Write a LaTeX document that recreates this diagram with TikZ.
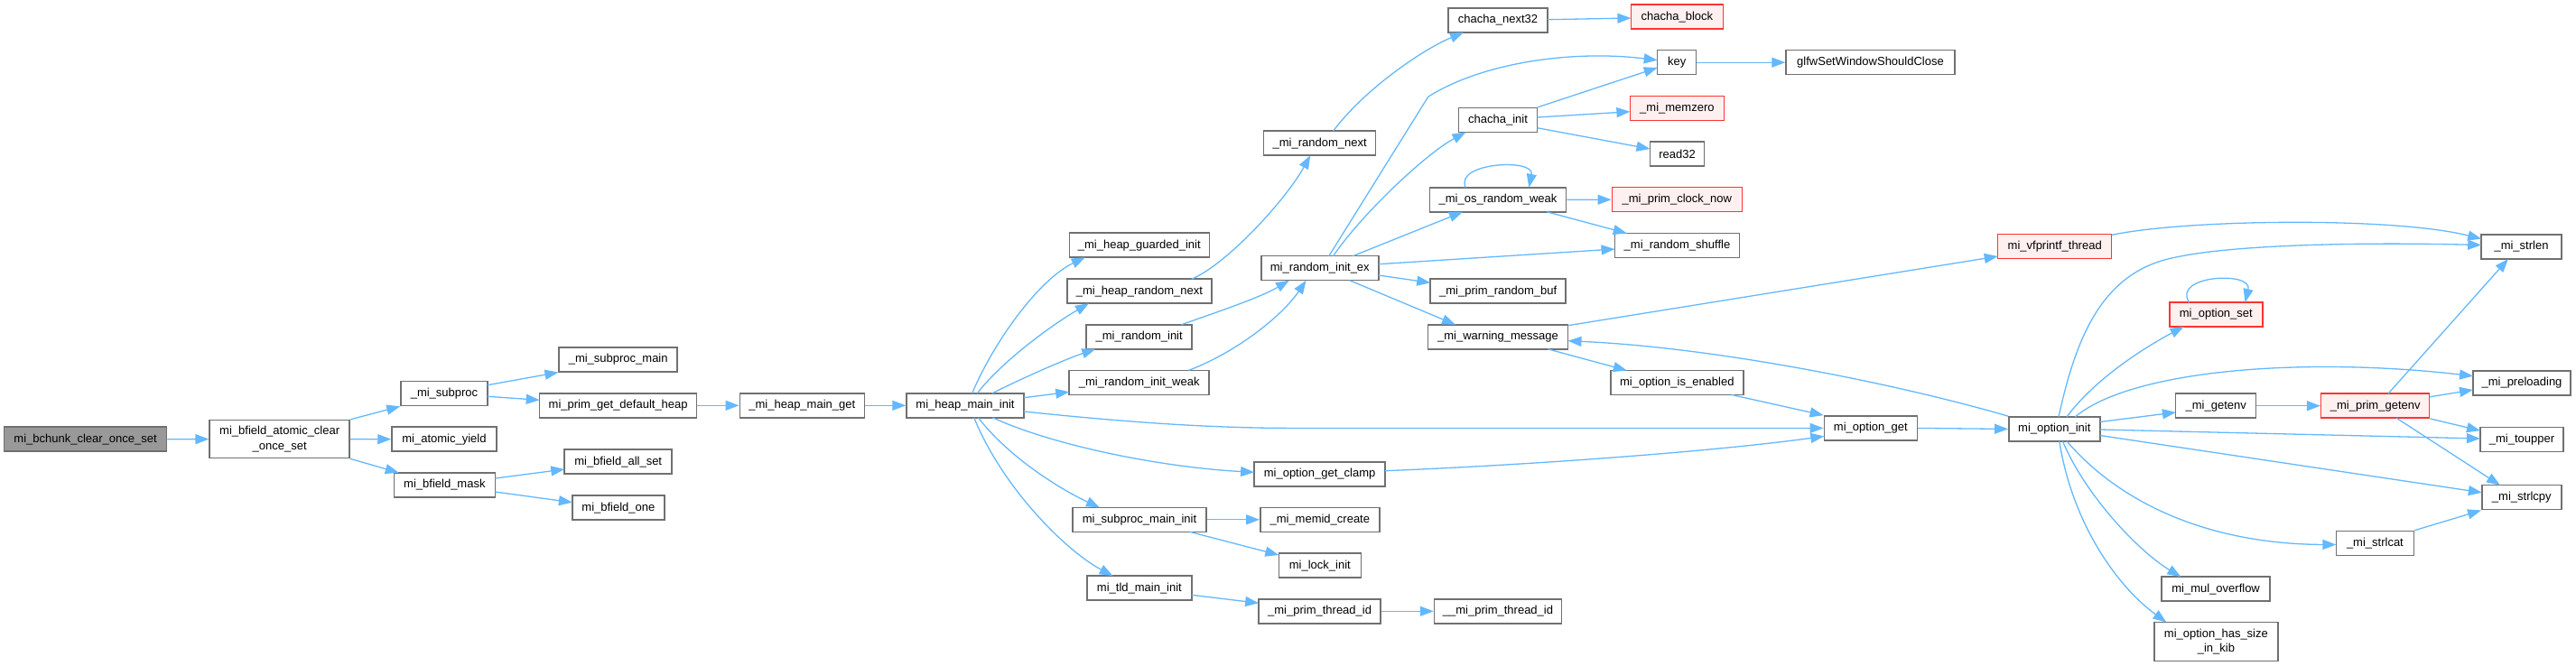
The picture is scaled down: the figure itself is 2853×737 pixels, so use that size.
\documentclass[tikz,border=0pt]{standalone}
\usepackage{fontspec}
\setmainfont{Liberation Sans}
\usetikzlibrary{arrows.meta}
\definecolor{boxgray}{HTML}{707070}
\definecolor{edgeblue}{HTML}{63B8FF}
\definecolor{boxred}{HTML}{FF3333}
\definecolor{redfill}{HTML}{FFF0F0}
\definecolor{rootfill}{HTML}{999999}
\tikzset{
  fn/.style={draw=boxgray, line width=1.5pt, fill=white, minimum height=27pt, inner sep=0pt,
    font=\fontsize{13}{16.5}\selectfont, text=black, align=center},
  hl/.style={fn, draw=boxred, fill=redfill},
  rootfn/.style={fn, fill=rootfill},
  e/.style={draw=edgeblue, line width=1.3pt, -{Triangle[length=15pt,width=11pt]}},
}
\begin{document}
\begin{tikzpicture}[x=1pt,y=-1pt]
\useasboundingbox (0,0) rectangle (2853,737);
% nodes
\node[rootfn, minimum width=180pt] (root) at (94.6,486.7) {mi\_bchunk\_clear\_once\_set};
\node[fn, minimum width=155pt, minimum height=42pt] (bfatomic) at (309.7,486.6) {mi\_bfield\_atomic\_clear\\\_once\_set};
\node[fn, minimum width=96pt] (subproc) at (492,436) {\_mi\_subproc};
\node[fn, minimum width=116pt] (atomicyield) at (492,486.7) {mi\_atomic\_yield};
\node[fn, minimum width=112pt] (bfmask) at (492.4,537.3) {mi\_bfield\_mask};
\node[fn, minimum width=131pt] (subprocmain) at (684.7,398.3) {\_mi\_subproc\_main};
\node[fn, minimum width=174pt] (primgetdefheap) at (684.7,449.3) {mi\_prim\_get\_default\_heap};
\node[fn, minimum width=119pt] (bfallset) at (684.7,511.7) {mi\_bfield\_all\_set};
\node[fn, minimum width=102pt] (bfone) at (684.9,562.7) {mi\_bfield\_one};
\node[fn, minimum width=138pt] (heapmainget) at (888.3,449.3) {\_mi\_heap\_main\_get};
\node[fn, minimum width=130pt] (heapmaininit) at (1069,449.3) {mi\_heap\_main\_init};
\node[fn, minimum width=155pt] (guarded) at (1261.8,271.7) {\_mi\_heap\_guarded\_init};
\node[fn, minimum width=160pt] (heaprandnext) at (1261.9,322.7) {\_mi\_heap\_random\_next};
\node[fn, minimum width=117pt] (randinit) at (1261.7,373.3) {\_mi\_random\_init};
\node[fn, minimum width=155pt] (randinitweak) at (1261.7,423.8) {\_mi\_random\_init\_weak};
\node[fn, minimum width=145pt] (optgetclamp) at (1461.6,525.3) {mi\_option\_get\_clamp};
\node[fn, minimum width=148pt] (subprocmaininit) at (1262,575.8) {mi\_subproc\_main\_init};
\node[fn, minimum width=116pt] (tldmaininit) at (1261.9,651.7) {mi\_tld\_main\_init};
\node[fn, minimum width=124pt] (randnext) at (1461.6,158.7) {\_mi\_random\_next};
\node[fn, minimum width=130pt] (randinitex) at (1461.8,297.2) {mi\_random\_init\_ex};
\node[fn, minimum width=132pt] (memidcreate) at (1461.8,575.8) {\_mi\_memid\_create};
\node[fn, minimum width=91pt] (lockinit) at (1461.8,626.7) {mi\_lock\_init};
\node[fn, minimum width=135pt] (primthreadid) at (1461.6,677.3) {\_mi\_prim\_thread\_id};
\node[fn, minimum width=110pt] (chachanext) at (1659,22.5) {chacha\_next32};
\node[fn, minimum width=87pt] (chachainit) at (1659,133) {chacha\_init};
\node[fn, minimum width=151pt] (osrandweak) at (1659,221.3) {\_mi\_os\_random\_weak};
\node[fn, minimum width=150pt] (primrandbuf) at (1659.2,322.7) {\_mi\_prim\_random\_buf};
\node[fn, minimum width=155pt] (warnmsg) at (1659,373.3) {\_mi\_warning\_message};
\node[fn, minimum width=141pt] (ddprimthreadid) at (1659,677.3) {\_\_mi\_prim\_thread\_id};
\node[hl, minimum width=102pt] (chachablock) at (1857.4,18.7) {chacha\_block};
\node[fn, minimum width=43pt] (key) at (1857.2,69.2) {key};
\node[hl, minimum width=104pt] (memzero) at (1857.4,120) {\_mi\_memzero};
\node[fn, minimum width=60pt] (read32) at (1857.5,170.5) {read32};
\node[hl, minimum width=144pt] (primclocknow) at (1857.3,221.2) {\_mi\_prim\_clock\_now};
\node[fn, minimum width=138pt] (randshuffle) at (1857.5,272) {\_mi\_random\_shuffle};
\node[fn, minimum width=147pt] (optisenabled) at (1857.3,424) {mi\_option\_is\_enabled};
\node[fn, minimum width=187pt] (glfw) at (2071.5,69.2) {glfwSetWindowShouldClose};
\node[fn, minimum width=103pt] (optget) at (2071.8,474.4) {mi\_option\_get};
\node[hl, minimum width=126pt] (vfprintf) at (2275.7,273.2) {mi\_vfprintf\_thread};
\node[fn, minimum width=101pt] (optinit) at (2275.3,475.4) {mi\_option\_init};
\node[hl, minimum width=103pt] (optset) at (2454.3,348.5) {mi\_option\_set};
\node[fn, minimum width=89pt] (getenv) at (2454.2,449.7) {\_mi\_getenv};
\node[fn, minimum width=120pt] (mulovf) at (2454.1,652.6) {mi\_mul\_overflow};
\node[fn, minimum width=137pt, minimum height=43pt] (hassize) at (2454.4,711.1) {mi\_option\_has\_size\\\_in\_kib};
\node[hl, minimum width=120pt] (primgetenv) at (2630.7,449.7) {\_mi\_prim\_getenv};
\node[fn, minimum width=86pt] (strlcat) at (2630.4,602) {\_mi\_strlcat};
\node[fn, minimum width=89pt] (strlen) at (2792.5,273.4) {\_mi\_strlen};
\node[fn, minimum width=108pt] (preloading) at (2793,424.3) {\_mi\_preloading};
\node[fn, minimum width=92pt] (toupper) at (2793,487.1) {\_mi\_toupper};
\node[fn, minimum width=88pt] (strlcpy) at (2792.8,551.2) {\_mi\_strlcpy};
% edges
\draw[e] (root.east) -- (bfatomic.west);
\draw[e] (bfatomic.north east) -- (subproc.south west);
\draw[e] (bfatomic.east) -- (atomicyield.west);
\draw[e] (bfatomic.south east) -- ([shift={(-50.7,-13.5)}]bfmask.center);
\draw[e] ([shift={(48,-9.3)}]subproc.center) -- (subprocmain.south west);
\draw[e] ([shift={(48,3.3)}]subproc.center) -- ([shift={(-87,-6)}]primgetdefheap.center);
\draw[e] ([shift={(56,-7.3)}]bfmask.center) -- ([shift={(-59.5,8.3)}]bfallset.center);
\draw[e] ([shift={(56,7.7)}]bfmask.center) -- ([shift={(-51,-6)}]bfone.center);
\draw[e] (primgetdefheap.east) -- (heapmainget.west);
\draw[e] (heapmainget.east) -- (heapmaininit.west);
\draw[e] ([shift={(7.7,-13.5)}]heapmaininit.center) .. controls (1100,380) and (1150,310) .. ([shift={(-60,13.5)}]guarded.center);
\draw[e] ([shift={(13.3,-13.5)}]heapmaininit.center) .. controls (1110,400) and (1165,360) .. ([shift={(-56,13.5)}]heaprandnext.center);
\draw[e] ([shift={(30,-13.5)}]heapmaininit.center) .. controls (1130,420) and (1180,398) .. ([shift={(-48.4,13.5)}]randinit.center);
\draw[e] ([shift={(65,-8.6)}]heapmaininit.center) -- ([shift={(-77.5,10.5)}]randinitweak.center);
\draw[e] ([shift={(65,6.7)}]heapmaininit.center) .. controls (1230,466) and (1330,474.4) .. (1430,474.4) -- (optget.west);
\draw[e] ([shift={(30.4,13.5)}]heapmaininit.center) .. controls (1170,495) and (1290,518) .. ([shift={(-72.5,-2)}]optgetclamp.center);
\draw[e] ([shift={(14.4,13.5)}]heapmaininit.center) .. controls (1120,510) and (1180,545) .. ([shift={(-44,-13.5)}]subprocmaininit.center);
\draw[e] ([shift={(9.8,13.5)}]heapmaininit.center) .. controls (1110,540) and (1180,610) .. ([shift={(-29.3,-13.5)}]tldmaininit.center);
\draw[e] ([shift={(58,-13.5)}]heaprandnext.center) .. controls (1360,292) and (1425,220) .. ([shift={(-10.4,13.5)}]randnext.center);
\draw[e] ([shift={(46.6,-13.5)}]randinit.center) .. controls (1350,345) and (1395,330) .. ([shift={(-33.8,13.5)}]randinitex.center);
\draw[e] ([shift={(55,-13.5)}]randinitweak.center) .. controls (1370,390) and (1420,350) .. ([shift={(-15.2,13.5)}]randinitex.center);
\draw[e] ([shift={(15,-13.5)}]randnext.center) .. controls (1510,100) and (1575,55) .. ([shift={(-38,13.5)}]chachanext.center);
\draw[e] ([shift={(55,-0.8)}]chachanext.center) -- ([shift={(-51,1.3)}]chachablock.center);
\draw[e] ([shift={(10,-13.5)}]randinitex.center) -- (1581.7,107.3) .. controls (1640,70) and (1740,55) .. ([shift={(-21.5,-2.5)}]key.center);
\draw[e] ([shift={(14.7,-13.5)}]randinitex.center) .. controls (1510,235) and (1580,170) .. ([shift={(-35.6,13.5)}]chachainit.center);
\draw[e] ([shift={(36.5,-13.5)}]randinitex.center) -- ([shift={(-39,13.5)}]osrandweak.center);
\draw[e] ([shift={(65,-4.5)}]randinitex.center) -- ([shift={(-69,4)}]randshuffle.center);
\draw[e] ([shift={(65,7.8)}]randinitex.center) -- ([shift={(-75,-9.4)}]primrandbuf.center);
\draw[e] ([shift={(33,13.5)}]randinitex.center) -- ([shift={(-47,-13.5)}]warnmsg.center);
\draw[e] (chachainit.north east) -- ([shift={(-21.5,5.8)}]key.center);
\draw[e] ([shift={(43.5,-3)}]chachainit.center) -- ([shift={(-52,3.7)}]memzero.center);
\draw[e] ([shift={(43.5,8.7)}]chachainit.center) -- ([shift={(-30,-5.5)}]read32.center);
\draw[e] (key.east) -- (glfw.west);
\draw[e] ([shift={(-35.7,-13.5)}]osrandweak.center) .. controls (1610,180) and (1700,175) .. ([shift={(34.3,-13.5)}]osrandweak.center);
\draw[e] (osrandweak.east) -- (primclocknow.west);
\draw[e] ([shift={(54.3,13.5)}]osrandweak.center) -- ([shift={(-55.8,-13.5)}]randshuffle.center);
\draw[e] ([shift={(77.5,-12.6)}]warnmsg.center) -- ([shift={(-63,10.8)}]vfprintf.center);
\draw[e] ([shift={(55.3,13.5)}]warnmsg.center) -- ([shift={(-55.5,-13.5)}]optisenabled.center);
\draw[e] ([shift={(60.6,13.5)}]optisenabled.center) -- (optget.north west);
\draw[e] ([shift={(72.5,-3.6)}]optgetclamp.center) .. controls (1700,515) and (1900,500) .. ([shift={(-51.5,9)}]optget.center);
\draw[e] (optget.east) -- (optinit.west);
\draw[e] (optinit.north west) .. controls (2100,425) and (1900,385) .. ([shift={(77.5,4.4)}]warnmsg.center);
\draw[e] ([shift={(63,-12.8)}]vfprintf.center) .. controls (2420,243) and (2650,240) .. ([shift={(-44.3,-8.7)}]strlen.center);
\draw[e] ([shift={(4.7,-13.5)}]optinit.center) .. controls (2300,370) and (2330,300) .. (2410,285) .. controls (2470,272) and (2600,268) .. ([shift={(-44.3,-1.9)}]strlen.center);
\draw[e] ([shift={(13.7,-13.5)}]optinit.center) .. controls (2320,420) and (2375,385) .. ([shift={(-35.7,13.5)}]optset.center);
\draw[e] ([shift={(-29.8,-13.5)}]optset.center) .. controls (2405,305) and (2495,300) .. ([shift={(32.2,-13.5)}]optset.center);
\draw[e] ([shift={(23,-13.5)}]optinit.center) .. controls (2360,410) and (2550,395) .. ([shift={(-54,-7.6)}]preloading.center);
\draw[e] ([shift={(50.5,-7.9)}]optinit.center) -- ([shift={(-44.3,7.2)}]getenv.center);
\draw[e] (getenv.east) -- (primgetenv.west);
\draw[e] ([shift={(50.5,0.6)}]optinit.center) -- ([shift={(-46,-1.1)}]toupper.center);
\draw[e] ([shift={(50.5,7.1)}]optinit.center) -- ([shift={(-44,-5.4)}]strlcpy.center);
\draw[e] ([shift={(13.7,13.5)}]optinit.center) .. controls (2350,560) and (2450,603) .. ([shift={(-43,1.5)}]strlcat.center);
\draw[e] ([shift={(9.2,13.5)}]optinit.center) .. controls (2310,550) and (2370,612) .. ([shift={(-38.7,-13.5)}]mulovf.center);
\draw[e] ([shift={(5.5,13.5)}]optinit.center) .. controls (2295,580) and (2345,650) .. ([shift={(-55,-21.5)}]hassize.center);
\draw[e] ([shift={(14.3,-13.5)}]primgetenv.center) -- ([shift={(-14.5,13.5)}]strlen.center);
\draw[e] ([shift={(60,-9.9)}]primgetenv.center) -- ([shift={(-54,7.7)}]preloading.center);
\draw[e] (primgetenv.south east) -- ([shift={(-46,-9.9)}]toupper.center);
\draw[e] ([shift={(23.4,13.5)}]primgetenv.center) -- ([shift={(-23.8,-13.5)}]strlcpy.center);
\draw[e] (strlcat.north east) -- (strlcpy.south west);
\draw[e] (subprocmaininit.east) -- (memidcreate.west);
\draw[e] ([shift={(55.5,13.5)}]subprocmaininit.center) -- ([shift={(-45.5,-11.7)}]lockinit.center);
\draw[e] ([shift={(58,7.6)}]tldmaininit.center) -- ([shift={(-67.5,-9)}]primthreadid.center);
\draw[e] (primthreadid.east) -- (ddprimthreadid.west);
\end{tikzpicture}
\end{document}
